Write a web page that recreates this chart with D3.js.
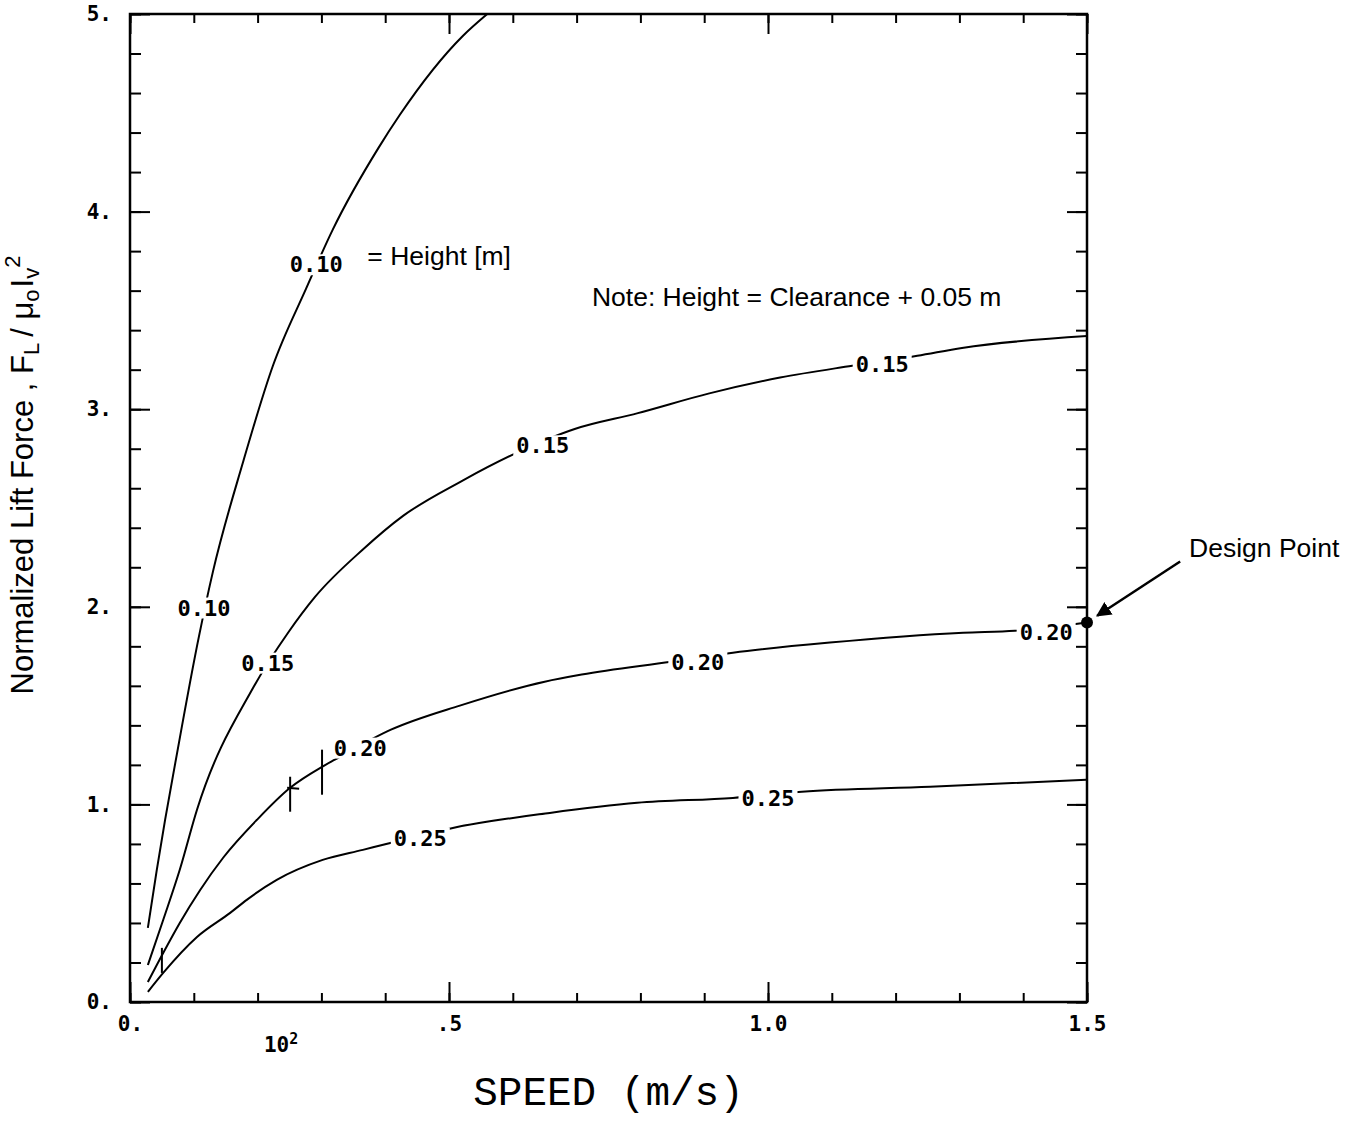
<!DOCTYPE html>
<html>
<head>
<meta charset="utf-8">
<script src="https://cdn.jsdelivr.net/npm/d3@7"></script>
<style>
  body { margin: 0; background: #fff; }
</style>
</head>
<body>
<div id="my_dataviz"></div>
<script>
// values: speed (m/s) and normalized lift force, one pair per height curve
var heights = ["0.10", "0.15", "0.20", "0.25"];

var speed10 = [0.028, 0.042, 0.055, 0.071, 0.108, 0.130, 0.177, 0.224, 0.276, 0.318, 0.389, 0.423, 0.522, 0.560];
var force10 = [0.375, 0.669, 0.922, 1.210, 1.849, 2.178, 2.730, 3.220, 3.610, 3.910, 4.320, 4.490, 4.890, 5.000];

var speed15 = [0.028, 0.052, 0.078, 0.105, 0.193, 0.248, 0.290, 0.365, 0.428, 0.522, 0.600, 0.697, 0.796, 0.908, 1.019, 1.132, 1.234, 1.304, 1.500];
var force15 = [0.187, 0.415, 0.669, 0.973, 1.590, 1.870, 2.050, 2.290, 2.460, 2.640, 2.770, 2.900, 2.980, 3.080, 3.160, 3.220, 3.270, 3.310, 3.370];

var speed20 = [0.028, 0.052, 0.078, 0.110, 0.146, 0.199, 0.251, 0.301, 0.321, 0.409, 0.517, 0.650, 0.708, 0.848, 0.945, 1.097, 1.306, 1.387, 1.500];
var force20 = [0.101, 0.248, 0.400, 0.567, 0.730, 0.922, 1.084, 1.190, 1.226, 1.378, 1.500, 1.621, 1.657, 1.722, 1.768, 1.819, 1.869, 1.879, 1.920];

var speed25 = [0.028, 0.052, 0.105, 0.157, 0.183, 0.230, 0.302, 0.365, 0.408, 0.506, 0.658, 0.795, 0.945, 1.053, 1.254, 1.500];
var force25 = [0.051, 0.147, 0.329, 0.451, 0.517, 0.618, 0.719, 0.770, 0.805, 0.881, 0.957, 1.008, 1.033, 1.064, 1.089, 1.125];

// inline curve labels
var labelText  = ["0.10", "0.10", "0.15", "0.15", "0.15", "0.20", "0.20", "0.20", "0.25", "0.25"];
var labelSpeed = [0.116, 0.292, 0.216, 0.647, 1.179, 0.361, 0.890, 1.436, 0.455, 1.000];
var labelForce = [1.996, 3.733, 1.717, 2.817, 3.227, 1.287, 1.722, 1.874, 0.831, 1.033];

// small vertical marks crossing the low-speed curves
var markSpeed = [0.050, 0.251, 0.301];
var markLow   = [0.147, 0.963, 1.049];
var markHigh  = [0.274, 1.140, 1.277];

// design point
var designSpeed = 1.5, designForce = 1.92;

// axis ticks
var minorX = d3.range(16).map(function(i) { return i / 10; });
var majorX = [0, 0.5, 1.0, 1.5];
var xLabels = ["0.", ".5", "1.0", "1.5"];
var minorY = d3.range(26).map(function(i) { return i / 5; });
var majorY = [0, 1, 2, 3, 4, 5];
var yLabels = ["0.", "1.", "2.", "3.", "4.", "5."];

var mono = "'DejaVu Sans Mono', monospace";
var sans = "'Liberation Sans', Arial, sans-serif";

// set the dimensions and margins of the graph
var margin = {top: 14, right: 268, bottom: 120, left: 130},
    width = 1355 - margin.left - margin.right,
    height = 1122 - margin.top - margin.bottom;

var svg = d3.select("#my_dataviz")
  .append("svg")
    .attr("width", width + margin.left + margin.right)
    .attr("height", height + margin.top + margin.bottom)
  .append("g")
    .attr("transform", "translate(" + margin.left + "," + margin.top + ")");

var x = d3.scaleLinear().domain([0, 1.5]).range([0, width]);
var y = d3.scaleLinear().domain([0, 5]).range([height, 0]);

function styleTicks(g) {
  g.select(".domain").remove();
  g.selectAll(".tick line").attr("stroke", "#000").attr("stroke-width", 2);
  g.selectAll(".tick text")
    .attr("fill", "#000")
    .style("font-family", mono)
    .style("font-weight", "bold")
    .style("font-size", "21px");
}

// bottom axis
svg.append("g")
  .attr("transform", "translate(0," + height + ")")
  .call(d3.axisBottom(x).tickValues(minorX).tickSize(-9).tickFormat(""))
  .call(styleTicks);
svg.append("g")
  .attr("transform", "translate(0," + height + ")")
  .call(d3.axisBottom(x).tickValues(majorX).tickSize(-20).tickPadding(14)
    .tickFormat(function(d, i) { return xLabels[i]; }))
  .call(styleTicks);

// top axis
svg.append("g")
  .call(d3.axisTop(x).tickValues(minorX).tickSize(-9).tickFormat(""))
  .call(styleTicks);
svg.append("g")
  .call(d3.axisTop(x).tickValues(majorX).tickSize(-20).tickFormat(""))
  .call(styleTicks);

// left axis
svg.append("g")
  .call(d3.axisLeft(y).tickValues(minorY).tickSize(-11).tickFormat(""))
  .call(styleTicks);
svg.append("g")
  .call(d3.axisLeft(y).tickValues(majorY).tickSize(-20).tickPadding(18)
    .tickFormat(function(d, i) { return yLabels[i]; }))
  .call(styleTicks);

// right axis
svg.append("g")
  .attr("transform", "translate(" + width + ",0)")
  .call(d3.axisRight(y).tickValues(minorY).tickSize(-11).tickFormat(""))
  .call(styleTicks);
svg.append("g")
  .attr("transform", "translate(" + width + ",0)")
  .call(d3.axisRight(y).tickValues(majorY).tickSize(-20).tickFormat(""))
  .call(styleTicks);

// frame
svg.append("rect")
  .attr("x", 0).attr("y", 0)
  .attr("width", width).attr("height", height)
  .attr("fill", "none")
  .attr("stroke", "#000")
  .attr("stroke-width", 2.5);

// curves
var curves = [
  d3.zip(speed10, force10),
  d3.zip(speed15, force15),
  d3.zip(speed20, force20),
  d3.zip(speed25, force25)
];

var line = d3.line()
  .x(function(d) { return x(d[0]); })
  .y(function(d) { return y(d[1]); })
  .curve(d3.curveMonotoneX);

svg.selectAll(".curve")
  .data(curves)
  .enter().append("path")
    .attr("class", "curve")
    .attr("fill", "none")
    .attr("stroke", "#000")
    .attr("stroke-width", 2)
    .attr("d", line);

// marks
svg.selectAll(".mark")
  .data(markSpeed)
  .enter().append("line")
    .attr("class", "mark")
    .attr("x1", function(d) { return x(d); })
    .attr("x2", function(d) { return x(d); })
    .attr("y1", function(d, i) { return y(markLow[i]); })
    .attr("y2", function(d, i) { return y(markHigh[i]); })
    .attr("stroke", "#000")
    .attr("stroke-width", 2);
svg.append("line")
  .attr("x1", x(markSpeed[1]) - 3).attr("x2", x(markSpeed[1]) + 9)
  .attr("y1", y(force20[6])).attr("y2", y(force20[6]) + 1)
  .attr("stroke", "#000").attr("stroke-width", 2);

// curve labels, on a white patch that breaks the line
var labels = svg.selectAll(".clabel")
  .data(labelText)
  .enter().append("g")
    .attr("class", "clabel")
    .attr("transform", function(d, i) {
      return "translate(" + x(labelSpeed[i]) + "," + y(labelForce[i]) + ")";
    });
labels.append("rect");
labels.append("text")
  .attr("text-anchor", "middle")
  .attr("dy", "0.36em")
  .style("font-family", mono)
  .style("font-weight", "bold")
  .style("font-size", "22px")
  .text(function(d) { return d; });
labels.each(function() {
  var g = d3.select(this);
  var b = g.select("text").node().getBBox();
  g.select("rect")
    .attr("x", b.x - 3).attr("y", b.y + 2)
    .attr("width", b.width + 6).attr("height", b.height - 4)
    .attr("fill", "#fff");
});

// design point and arrow
svg.append("circle")
  .attr("cx", x(designSpeed)).attr("cy", y(designForce))
  .attr("r", 6).style("fill", "#000");

svg.append("defs").append("marker")
  .attr("id", "head")
  .attr("viewBox", "0 0 10 10")
  .attr("refX", 9).attr("refY", 5)
  .attr("markerWidth", 6).attr("markerHeight", 6)
  .attr("orient", "auto")
  .append("path").attr("d", "M0,0L10,5L0,10Z").attr("fill", "#000");

svg.append("line")
  .attr("x1", x(1.646)).attr("y1", y(2.229))
  .attr("x2", x(1.516)).attr("y2", y(1.955))
  .attr("stroke", "#000").attr("stroke-width", 2.5)
  .attr("marker-end", "url(#head)");

svg.append("text")
  .attr("x", x(1.66)).attr("y", y(2.254))
  .style("font-family", sans).style("font-size", "26.5px")
  .text("Design Point");

// annotations
svg.append("text")
  .attr("x", x(0.372)).attr("y", y(3.73))
  .style("font-family", sans).style("font-size", "26.5px")
  .text("= Height [m]");

svg.append("text")
  .attr("x", x(0.724)).attr("y", y(3.52))
  .style("font-family", sans).style("font-size", "26.5px")
  .text("Note: Height = Clearance + 0.05 m");

// scale factor below the x axis
var mult = svg.append("text")
  .attr("x", x(0.21)).attr("y", height + 50)
  .style("font-family", mono).style("font-weight", "bold").style("font-size", "21px");
mult.append("tspan").text("10");
mult.append("tspan").attr("dy", -8).style("font-size", "15px").text("2");

// axis titles
svg.append("text")
  .attr("x", x(0.75)).attr("y", 1105 - margin.top)
  .attr("text-anchor", "middle")
  .style("font-family", "'Liberation Mono', monospace")
  .style("font-size", "41px")
  .text("SPEED (m/s)");

var yt = svg.append("text")
  .attr("transform", "translate(" + (22 - margin.left) + "," + (475 - margin.top) + ") rotate(-90)")
  .attr("text-anchor", "middle")
  .attr("dy", "0.35em")
  .style("font-family", sans)
  .style("font-size", "31px");
yt.append("tspan").text("Normalized Lift Force , F");
yt.append("tspan").attr("dy", 6).style("font-size", "22px").text("L");
yt.append("tspan").attr("dy", -6).attr("dx", 6).text("/ \u03bc");
yt.append("tspan").attr("dy", 6).style("font-size", "22px").text("o");
yt.append("tspan").attr("dy", -6).attr("dx", 2).text("I");
yt.append("tspan").attr("dy", 6).style("font-size", "22px").text("v");
yt.append("tspan").attr("dy", -19).style("font-size", "22px").text("2");
</script>
</body>
</html>
